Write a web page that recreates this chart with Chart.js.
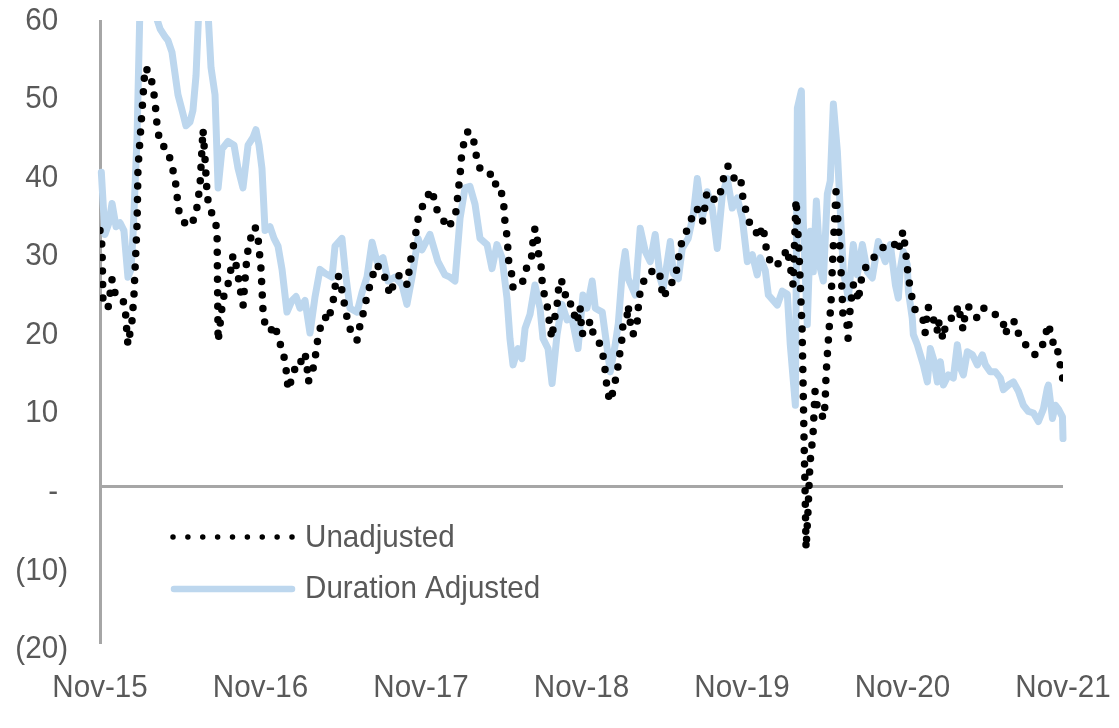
<!DOCTYPE html>
<html>
<head>
<meta charset="utf-8">
<script src="https://cdn.jsdelivr.net/npm/chart.js@4.4.0/dist/chart.umd.min.js"></script>
<style>
html, body { margin: 0; padding: 0; background: #fff; }
#wrap { width: 1119px; height: 728px; }
</style>
</head>
<body>
<div id="wrap"><canvas id="chart" width="1119" height="728"></canvas></div>
<script>
// months since Nov-15
var tickLabels = ["Nov-15", "Nov-16", "Nov-17", "Nov-18", "Nov-19", "Nov-20", "Nov-21"];

var unadjMonths = [0, 0.15, 0.22, 0.6, 0.9, 1.12, 1.5, 1.87, 2.02, 2.09, 2.39, 2.54, 2.62, 2.77, 2.84, 3.14, 3.37, 3.74, 3.96, 4.11,
  4.26, 4.49, 5.01, 5.24, 5.61, 5.76, 5.83, 6.13, 6.58, 7.1, 7.26, 7.48, 7.7, 7.85, 8.0, 8.08, 8.38, 8.75, 8.83, 9.2,
  9.5, 9.72, 9.95, 10.25, 10.47, 10.7, 10.85, 11.0, 11.22, 11.59, 11.82, 12.04, 12.19, 12.34, 12.72, 13.09, 13.31, 13.61, 13.84, 13.99,
  14.06, 14.44, 14.74, 15.11, 15.33, 15.48, 15.56, 15.86, 16.08, 16.23, 16.46, 16.83, 17.05, 17.43, 17.58, 17.8, 18.18, 18.33, 18.55, 18.85,
  19.22, 19.45, 19.67, 20.05, 20.35, 20.57, 21.09, 21.47, 21.69, 22.06, 22.44, 22.81, 22.96, 23.18, 23.33, 23.56, 23.71, 23.93, 24.31, 24.53,
  24.83, 25.05, 25.28, 25.65, 26.02, 26.32, 26.54, 26.69, 26.77, 26.92, 26.99, 27.07, 27.29, 27.51, 27.81, 28.04, 28.19, 28.41, 28.79, 29.16,
  29.38, 29.76, 30.06, 30.21, 30.28, 30.43, 30.51, 30.58, 30.8, 30.88, 31.18, 31.55, 31.78, 32.0, 32.3, 32.37, 32.52, 32.67, 32.75, 32.97,
  33.05, 33.2, 33.42, 33.5, 33.64, 33.79, 33.94, 34.17, 34.24, 34.39, 34.62, 34.77, 34.99, 35.29, 35.44, 35.66, 35.89, 36.04, 36.41, 36.79,
  36.86, 37.16, 37.53, 37.68, 37.83, 37.91, 38.13, 38.36, 38.51, 38.73, 38.88, 39.03, 39.11, 39.41, 39.48, 39.63, 39.85, 40.15, 40.23, 40.3,
  40.52, 40.75, 41.12, 41.5, 41.87, 42.02, 42.17, 42.47, 42.84, 43.14, 43.36, 43.59, 43.96, 44.34, 44.64, 44.86, 45.08, 45.38, 45.76, 46.13,
  46.51, 46.66, 46.95, 47.25, 47.63, 47.85, 48.0, 48.08, 48.38, 48.6, 48.97, 49.2, 49.57, 49.72, 49.87, 50.25, 50.62, 50.99, 51.37, 51.59,
  51.82, 52.04, 52.27, 52.49, 52.56, 52.64, 52.71, 52.79, 52.94, 53.08, 53.31, 53.46, 53.61, 53.83, 54.06, 54.21, 54.28, 54.36, 54.51, 54.66,
  54.73, 54.88, 55.03, 55.18, 55.33, 55.48, 55.56, 55.85, 55.93, 56.08, 56.3, 56.53, 56.68, 56.83, 56.98, 57.35, 57.72, 58.17, 58.69, 59.07,
  59.44, 59.67, 59.97, 60.04, 60.19, 60.42, 60.57, 60.72, 60.94, 61.17, 61.54, 61.69, 61.91, 62.29, 62.59, 62.66, 63.04, 63.19, 63.56, 63.94,
  64.16, 64.53, 64.68, 64.91, 65.28, 65.58, 66.03, 66.55, 66.92, 67.3, 67.52, 67.67, 68.05, 68.42, 68.65, 69.02, 69.55, 69.92, 70.3, 70.52,
  70.82, 70.9, 71.05, 71.27, 71.57, 71.65, 71.95, 72.0];
var unadjValues = [33, 31, 24, 23, 26.7, 25, 24.7, 23.4, 19.6, 18.3, 21.3, 24.7, 28, 33.8, 41, 48.4, 54, 53.3, 51.4, 49.7,
  46.7, 44.1, 43.6, 42.2, 39.7, 37.6, 35.9, 34.4, 33.5, 34.6, 36.1, 38.9, 46, 42.3, 38, 36.8, 35.1, 33.3, 18.7, 24.3,
  25.5, 27.3, 29.9, 28.1, 25.5, 23.4, 26.8, 29.9, 31.8, 33.5, 32, 28, 22.6, 20.9, 20, 20.9, 19.1, 17.8, 16.1, 14,
  12.5, 14.4, 16.3, 16.1, 17.2, 15.5, 13.5, 14.6, 16.5, 18.5, 20.4, 21.9, 21.3, 23.9, 25.8, 27.3, 24.7, 22.8, 21.3, 19.4,
  18.9, 20.9, 22.3, 25.2, 26.8, 28.6, 28.1, 26, 24.7, 26.8, 27.3, 26.8, 26, 28.6, 30.3, 32, 34, 35.5, 36.8, 37.6,
  38.3, 36.4, 35.3, 34.4, 33.3, 34.2, 34.6, 36.4, 38, 40, 41.7, 43.4, 44.7, 45.8, 45.3, 43.9, 41.9, 41, 40.4, 40.4,
  38.9, 39.1, 37.6, 35.9, 34, 32.3, 30.3, 28.4, 27.3, 25.6, 26, 26.2, 27.3, 29, 29.8, 31.6, 33.3, 32.5, 30.3, 28.6,
  26.6, 24.9, 23.4, 22.6, 20.6, 19.1, 21.3, 23.2, 24.9, 26.7, 26.2, 24.9, 23.4, 23.6, 22.3, 21.1, 23.2, 19.6, 21, 21.3,
  19.6, 19.1, 17.8, 16.1, 14.2, 12.5, 11, 12.3, 13.5, 15.5, 17.4, 19.1, 21.3, 22, 23.4, 21.3, 19.6, 20.9, 22.6, 24.5,
  25.6, 27.1, 27.5, 28.1, 27.1, 25.2, 24.3, 26, 26.4, 28.1, 30.7, 32, 33.3, 35.1, 35.9, 34.4, 34.2, 38, 37.2, 36.8,
  38.5, 40.2, 41.3, 40, 39.4, 39.8, 38.7, 36.8, 35.1, 33.8, 33.4, 32, 33.6, 31.8, 30.1, 28.4, 28.6, 29.2, 30.7, 28.6,
  26, 37, 30, 20.4, 14, 6, 0, -8, -3, 3, 6.7, 12.3, 10.5, 10.3, 8.8, 10.5, 14.2, 16.5, 20.2, 23.9,
  27.3, 32.9, 38, 34, 30.7, 25, 21.5, 20.9, 19.1, 22.8, 26, 26, 23.9, 25.6, 27.3, 28.6, 29.4, 29.9, 31.2, 31.4,
  31.2, 30.3, 32.5, 32.9, 31, 27.3, 25.6, 24.3, 22.8, 22.4, 21.5, 19.8, 23.2, 21.7, 20, 21.5, 19, 20.6, 21.7, 21.7,
  23.4, 20.2, 22.2, 23.2, 22.8, 21.7, 23, 22.8, 22.2, 21.7, 21.3, 19.6, 21.1, 21.3, 19.8, 18.7, 17.6, 17, 17.6, 18.5,
  20.4, 21, 20, 18.5, 18.5, 16.5, 14.8, 12.9];

var durMonths = [0.1, 0.37, 0.67, 0.9, 1.2, 1.5, 1.79, 2.09, 2.32, 2.47, 2.77, 2.99, 3.37, 3.74, 4.11, 4.49, 4.86, 5.08, 5.38, 5.83,
  6.21, 6.43, 6.73, 6.95, 7.18, 7.4, 7.78, 8.08, 8.3, 8.6, 8.83, 9.12, 9.57, 10.02, 10.32, 10.69, 11.07, 11.44, 11.66, 11.89,
  12.11, 12.34, 12.71, 13.01, 13.31, 13.61, 13.98, 14.36, 14.66, 14.95, 15.33, 15.7, 16.08, 16.45, 16.82, 17.35, 17.57, 18.09, 18.32, 18.69,
  19.22, 19.59, 19.96, 20.34, 20.71, 21.16, 21.53, 22.06, 22.58, 22.95, 23.33, 23.78, 24.07, 24.67, 25.27, 25.79, 26.17, 26.54, 26.92, 27.29,
  27.66, 28.04, 28.41, 28.94, 29.31, 29.68, 30.06, 30.43, 30.65, 30.88, 31.25, 31.55, 31.78, 32.15, 32.52, 32.9, 33.12, 33.5, 33.8, 34.17,
  34.54, 34.92, 35.29, 35.74, 36.11, 36.41, 36.8, 37.03, 37.55, 37.92, 38.15, 38.52, 38.75, 39.05, 39.27, 39.49, 40.02, 40.39, 40.77, 41.14,
  41.51, 41.89, 42.11, 42.64, 42.86, 43.24, 43.53, 43.98, 44.36, 44.66, 45.03, 45.4, 45.78, 46.15, 46.53, 46.9, 47.27, 47.65, 48.02, 48.4,
  48.77, 49.14, 49.37, 49.74, 49.97, 50.64, 51.01, 51.39, 51.61, 51.99, 52.14, 52.44, 52.58, 52.88, 53.11, 53.33, 53.56, 53.86, 54.08, 54.38,
  54.6, 54.83, 55.13, 55.35, 55.58, 55.95, 56.32, 56.62, 57.0, 57.37, 57.74, 58.19, 58.71, 59.09, 59.47, 59.69, 59.84, 60.06, 60.36, 60.44,
  60.73, 60.81, 61.11, 61.33, 61.56, 61.86, 62.08, 62.31, 62.61, 62.83, 63.06, 63.43, 63.8, 64.1, 64.33, 64.55, 64.85, 65.23, 65.6, 65.97,
  66.2, 66.57, 66.95, 67.32, 67.54, 67.92, 68.29, 68.67, 69.04, 69.41, 69.79, 70.16, 70.53, 70.83, 70.91, 71.21, 71.43, 71.66, 71.96, 72.0];
var durValues = [40.5, 32.5, 34, 36.5, 33.5, 34, 33, 27, 28, 32.5, 45, 62, 68, 66, 61, 59, 58, 57.5, 56, 50.5,
  48, 46.5, 47, 48.5, 53, 62, 65, 61, 54, 50.5, 38.5, 43.5, 44.5, 44, 41, 38.5, 44, 45, 46, 44,
  41, 33, 33.5, 32, 31, 28, 22.5, 24, 24.5, 23, 24, 19.8, 24.5, 28, 27.5, 27, 31, 32, 28, 23,
  22.5, 25, 27, 31.5, 29, 29.5, 26.5, 27, 26, 23.5, 27, 32, 30.5, 32.5, 29, 27.3, 27, 26.5, 34.6, 38.5,
  38.7, 36.4, 32, 31.2, 28.1, 31.2, 29.5, 24.3, 19.1, 15.7, 17.8, 16.5, 20.4, 22.2, 26, 23, 19.1, 17.8, 13.3, 19.6,
  23.5, 21.5, 21.7, 17.8, 24.7, 23, 26.5, 23, 22.5, 17.8, 14.8, 18.3, 21, 27.7, 30.3, 26.8, 24.7, 33.3, 30.3, 29,
  32.5, 26.8, 25.5, 31.6, 27.5, 26.8, 30.7, 32, 35.1, 39.7, 34.6, 38, 35.9, 30.7, 37.6, 39.7, 35.9, 37.2, 34.6, 29,
  29.9, 27.3, 29.5, 27.9, 24.7, 23.4, 25.2, 24.8, 18.3, 10.5, 48.8, 51, 34.2, 20.9, 32.9, 27.7, 36.8, 28.1, 26.5, 37.7,
  39.4, 49.3, 43.2, 35.5, 27.7, 24.3, 31.2, 27.3, 31.2, 27.7, 26.9, 31.6, 29, 31.2, 26, 24.3, 28.1, 30.3, 28.6, 25.2,
  21.7, 19.6, 18.3, 17, 15.7, 13.5, 17.8, 16.5, 13.5, 16.1, 13.1, 14.4, 14, 18.3, 15.3, 14.4, 17.4, 17, 15.7, 17,
  15.7, 14.8, 14.8, 14, 12.5, 13.1, 13.5, 12.3, 10.5, 9.7, 9.5, 8.4, 10, 12.7, 13.1, 8.8, 10.5, 10, 9, 6.2];

var yTicks = [-20, -10, 0, 10, 20, 30, 40, 50, 60];

function toPoints(xs, ys) {
  var pts = [];
  for (var i = 0; i < xs.length; i++) pts.push({ x: xs[i], y: ys[i] });
  return pts;
}

// accounting style: (10) for negatives, - for zero
function yLabel(v) {
  if (v === 0) return '-';
  if (v < 0) return '(' + (-v) + ')';
  return String(v);
}

var textColor = '#595959';
var axisColor = '#a6a6a6';
var fontFamily = "'Liberation Sans', Arial, sans-serif";
var fontSize = 32;
var squeeze = 0.925; // reference text is a slightly narrow face

function squashedText(ctx, text, x, y, align) {
  ctx.save();
  ctx.translate(x, y);
  ctx.scale(squeeze, 1);
  ctx.textAlign = align;
  ctx.fillText(text, 0, 0);
  ctx.restore();
}

// tick labels and legend
var textLayer = {
  id: 'textLayer',
  afterDraw: function (chart) {
    var ctx = chart.ctx, a = chart.chartArea;
    var xs = chart.scales.x, ys = chart.scales.y;
    var ds = chart.data.datasets;
    ctx.save();
    ctx.fillStyle = textColor;
    ctx.font = fontSize + 'px ' + fontFamily;
    ctx.textBaseline = 'middle';
    var parenW = ctx.measureText(')').width * squeeze;
    yTicks.forEach(function (v) {
      var right = a.left - 32 - (v < 0 ? 0 : parenW);
      var y = ys.getPixelForValue(v) + (60 - v) * 0.09;
      squashedText(ctx, yLabel(v), right, y, 'right');
    });
    tickLabels.forEach(function (t, i) {
      squashedText(ctx, t, xs.getPixelForValue(i * 12), a.bottom + 46, 'center');
    });

    // legend inside the plot, lower left
    var sx0 = a.left + 73, sx1 = a.left + 192, tx = a.left + 205;
    var rows = [a.bottom - 105, a.bottom - 53];
    ctx.beginPath();
    ctx.setLineDash([0, (sx1 - sx0) / 8]);
    ctx.lineCap = 'round';
    ctx.lineWidth = 5.5;
    ctx.strokeStyle = ds[0].borderColor;
    ctx.moveTo(sx0, rows[0]);
    ctx.lineTo(sx1 + 0.5, rows[0]);
    ctx.stroke();
    ctx.beginPath();
    ctx.setLineDash([]);
    ctx.lineWidth = 6.5;
    ctx.strokeStyle = ds[1].borderColor;
    ctx.moveTo(sx0 + 1, rows[1]);
    ctx.lineTo(sx1, rows[1]);
    ctx.stroke();
    squashedText(ctx, ds[0].label, tx, rows[0] + 1.5, 'left');
    squashedText(ctx, ds[1].label, tx, rows[1] + 0.5, 'left');
    ctx.restore();
  }
};

new Chart(document.getElementById('chart'), {
  type: 'line',
  data: {
    datasets: [{
      label: 'Unadjusted',
      data: toPoints(unadjMonths, unadjValues),
      borderColor: '#000000',
      borderWidth: 7.5,
      borderDash: [0, 13.5],
      borderCapStyle: 'round',
      borderJoinStyle: 'round',
      pointRadius: 0,
      fill: false,
      tension: 0
    }, {
      label: 'Duration Adjusted',
      data: toPoints(durMonths, durValues),
      borderColor: '#bdd7ee',
      borderWidth: 7,
      borderJoinStyle: 'round',
      borderCapStyle: 'round',
      pointRadius: 0,
      fill: false,
      tension: 0,
      clip: { left: 5, right: 5, top: 0, bottom: 5 }
    }]
  },
  options: {
    responsive: false,
    animation: false,
    layout: { padding: { top: 21, right: 56, left: 0, bottom: 0 } },
    plugins: {
      legend: { display: false },
      tooltip: { enabled: false }
    },
    scales: {
      x: {
        type: 'linear',
        min: 0,
        max: 72,
        grid: { display: false },
        border: { display: false },
        afterBuildTicks: function (scale) {
          scale.ticks = tickLabels.map(function (t, i) { return { value: i * 12 }; });
        },
        afterFit: function (scale) { scale.height = 86; },
        ticks: { display: false }
      },
      y: {
        min: -20,
        max: 60,
        afterBuildTicks: function (scale) {
          scale.ticks = yTicks.map(function (v) { return { value: v }; });
        },
        afterFit: function (scale) { scale.width = 100; },
        grid: {
          drawTicks: false,
          lineWidth: 3,
          color: function (c) { return c.tick && c.tick.value === 0 ? axisColor : 'rgba(0,0,0,0)'; }
        },
        border: { display: true, color: axisColor, width: 3 },
        ticks: { display: false }
      }
    }
  },
  plugins: [textLayer]
});
</script>
</body>
</html>
